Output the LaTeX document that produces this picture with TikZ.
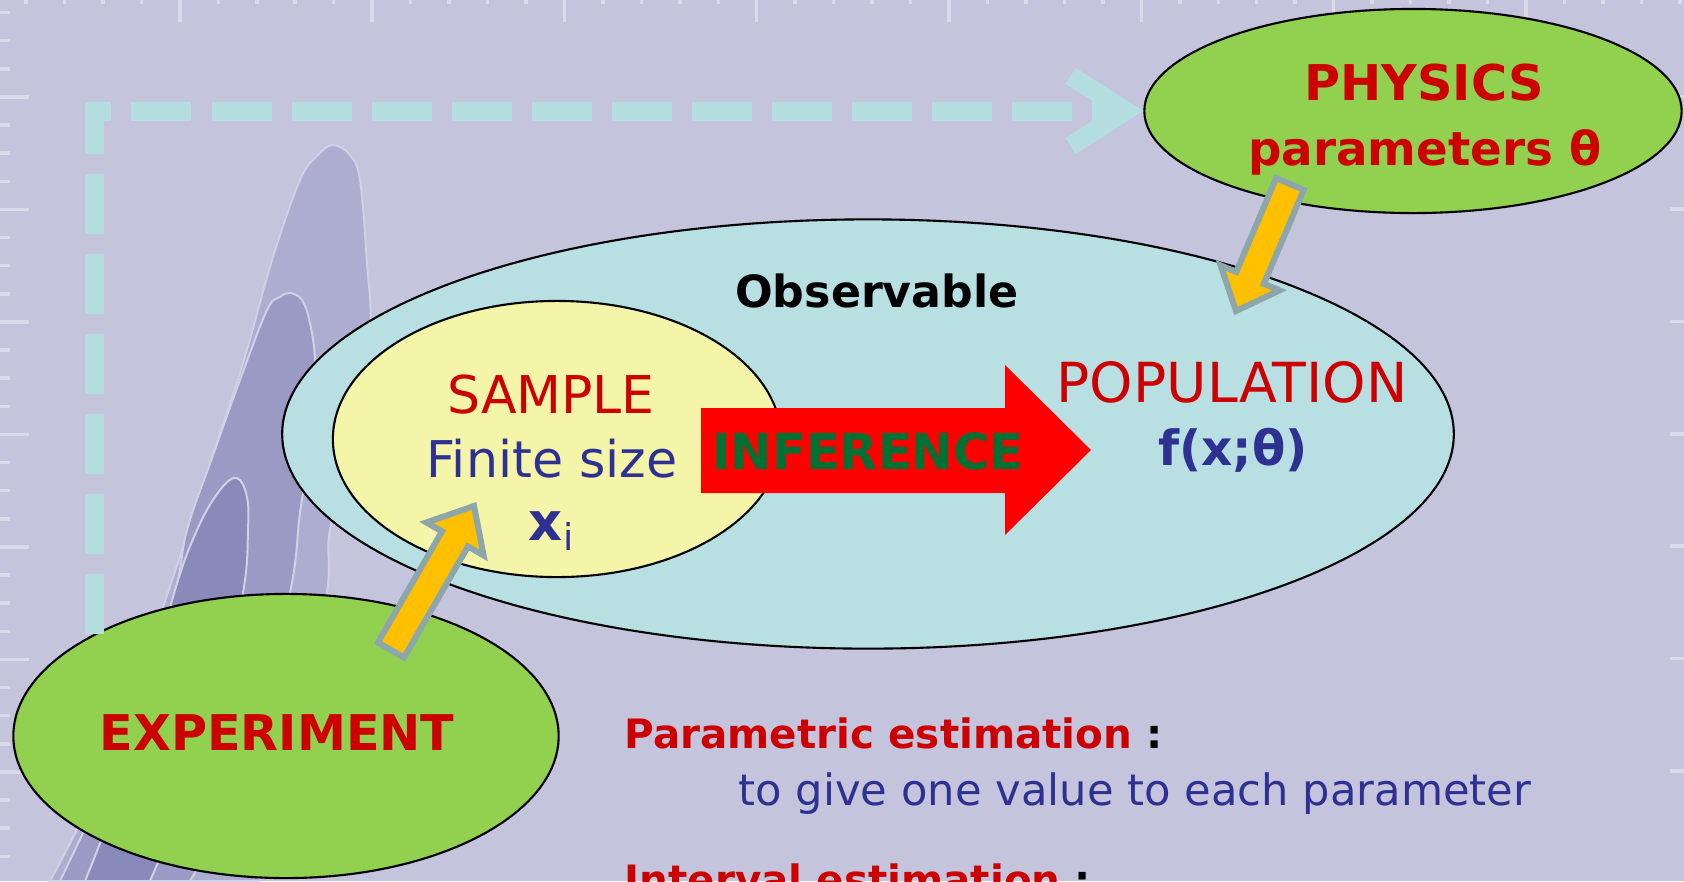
\documentclass[tikz,border=0pt]{standalone}
\usepackage{fontspec}
\setmainfont{DejaVu Sans}
\usepackage{xcolor}
\usepackage{tikz}
\usetikzlibrary{positioning, calc, shapes.geometric, arrows.meta}

\definecolor{slide}{RGB}{196,196,220}
\definecolor{humpA}{RGB}{173,173,208}
\definecolor{humpB}{RGB}{154,154,197}
\definecolor{humpC}{RGB}{137,137,186}
\definecolor{humpline}{RGB}{208,208,230}
\definecolor{tickwhite}{RGB}{218,218,234}
\definecolor{dashcyan}{RGB}{180,222,224}
\definecolor{obsfill}{RGB}{184,224,226}
\definecolor{smpfill}{RGB}{245,245,170}
\definecolor{leaf}{RGB}{146,208,80}
\definecolor{infred}{RGB}{255,0,0}
\definecolor{txtred}{RGB}{204,0,0}
\definecolor{txtblue}{RGB}{46,49,146}
\definecolor{txtgreen}{RGB}{0,112,51}
\definecolor{arrowgold}{RGB}{255,192,0}
\definecolor{arrowrim}{RGB}{140,166,172}

% block arrow: tail, tip, shaft half width, head half width, head length
\newcommand{\fatarrow}[5]{%
  \coordinate (fa-c) at ($(#2)!#5!(#1)$);
  \filldraw[fatarrow] ($(#1)!#3!90:(#2)$) -- ($(fa-c)!#3!90:(#2)$)
    -- ($(fa-c)!#4!90:(#2)$) -- (#2) -- ($(fa-c)!#4!-90:(#2)$)
    -- ($(fa-c)!#3!-90:(#2)$) -- ($(#1)!#3!-90:(#2)$) -- cycle;
}

\begin{document}
\begin{tikzpicture}[x=0.01cm, y=-0.01cm,
    oval/.style={ellipse, draw=black, line width=0.6pt, inner sep=0pt},
    flow/.style={draw=dashcyan, line width=0.19cm, dash pattern=on 0.6cm off 0.2cm,
                 -{Straight Barb[length=0.55cm, width=0.7cm]}},
    fatarrow/.style={fill=arrowgold, draw=arrowrim, line width=0.06cm, line join=miter},
    tick/.style={draw=tickwhite, line width=0.035cm},
    hump/.style={draw=humpline, line width=0.02cm},
    txt/.style={font=\fontsize{#1}{#1}\selectfont, inner sep=0pt},
    btxt/.style={font=\fontsize{#1}{#1}\selectfont\bfseries, inner sep=0pt},
]
\clip (0,0) rectangle (1684,881);
\fill[slide] (0,0) rectangle (1684,881);

% ruler ticks
\foreach \i in {0,...,43} {
  \pgfmathsetmacro{\tx}{26+38.46*\i}
  \pgfmathsetmacro{\tl}{mod(\i,5)==4 ? 22 : 4}
  \draw[tick] (\tx,0) -- (\tx,\tl);
}
\foreach \i in {0,...,31} {
  \pgfmathsetmacro{\ty}{12.6+28.125*\i}
  \pgfmathsetmacro{\tl}{mod(\i,4)==3 ? 29 : 10}
  \draw[tick] (0,\ty) -- (\tl,\ty);
}
\foreach \i in {0,...,6} {
  \pgfmathsetmacro{\ty}{96.6+112.4*\i}
  \draw[tick] (1670,\ty) -- (1684,\ty);
}

% background densities
\filldraw[hump, fill=humpA] plot[smooth, tension=0.6] coordinates {(50,881) (110,760)
  (163,607) (183,547) (210,463) (243,363) (273,257) (300,180) (318,155) (333,145)
  (350,155) (360,180) (367,263) (370,330) (355,430) (330,530) (327,593) (300,760)
  (260,881)} -- cycle;
\filldraw[hump, fill=humpB] plot[smooth, tension=0.6] coordinates {(60,881) (120,750)
  (172,603) (187,530) (212,458) (240,380) (267,310) (280,297) (290,293) (302,300)
  (310,323) (315,363) (312,430) (300,513) (290,593) (250,760) (190,881)} -- cycle;
\filldraw[hump, fill=humpC] plot[smooth, tension=0.6] coordinates {(85,881) (130,760)
  (173,597) (197,530) (220,490) (237,478) (247,497) (248,530) (243,593) (215,720)
  (150,881)} -- cycle;

% ellipses
\node[oval, fill=obsfill, minimum width=11.71cm, minimum height=4.29cm] (obs) at (868,434) {};
\node[oval, fill=smpfill, minimum width=4.48cm, minimum height=2.76cm] (smp) at (557,439) {};
\node[oval, fill=leaf, minimum width=5.37cm, minimum height=2.04cm] (phys) at (1413,111) {};
\node[oval, fill=leaf, minimum width=5.45cm, minimum height=2.84cm] (expt) at (286,736) {};

\draw[flow] (expt.152) |- (phys.west);

% inference arrow
\fill[infred] (701,408) -- (1005,408) -- (1005,365) -- (1091,450) -- (1005,535)
  -- (1005,493) -- (701,493) -- cycle;

% labels
\node[btxt=12.6, anchor=base] (lblobs) at (877,307) {Observable};
\node[txt=14.8, text=txtred, anchor=base] (lblsmp) at (551,413) {SAMPLE};
\node[txt=14.4, text=txtblue, anchor=base] (lblsize) at (552,477) {Finite size};
\node[btxt=15, text=txtblue, anchor=base] (lblxi) at (552,540) {x\textsubscript{\mdseries i}};
\node[txt=15.7, text=txtred, anchor=base] (lblpop) at (1232,402) {POPULATION};
\node[btxt=13.8, text=txtblue, anchor=base] (lblf) at (1233,465) {f(x;θ)};
\node[btxt=14.1, text=txtgreen, anchor=base] (lblinf) at (868,469) {INFERENCE};
\node[btxt=14, text=txtred, anchor=base] (lblphys) at (1424,100) {PHYSICS};
\node[btxt=13.3, text=txtred, anchor=base] (lblpar) at (1425,165) {parameters θ};
\node[btxt=14, text=txtred, anchor=base] (lblexp) at (277,750) {EXPERIMENT};

\node[btxt=11.5, text=txtred, anchor=base west] (lblpe) at (624,748)
  {Parametric estimation \textcolor{black}{:}};
\node[txt=12.3, text=txtblue, anchor=base west] (lblpedef) at (738,805)
  {to give one value to each parameter};
\node[btxt=11.5, text=txtred, anchor=base west] (lblie) at (624,894)
  {Interval estimation \textcolor{black}{:}};

% feeding arrows
\coordinate (expout) at (391,650);
\coordinate (smpin) at (474,506);
\coordinate (physout) at (1290,184);
\coordinate (popin) at (1236,311);
\fatarrow{expout}{smpin}{0.15cm}{0.33cm}{0.38cm}
\fatarrow{physout}{popin}{0.15cm}{0.32cm}{0.36cm}
\end{tikzpicture}
\end{document}
